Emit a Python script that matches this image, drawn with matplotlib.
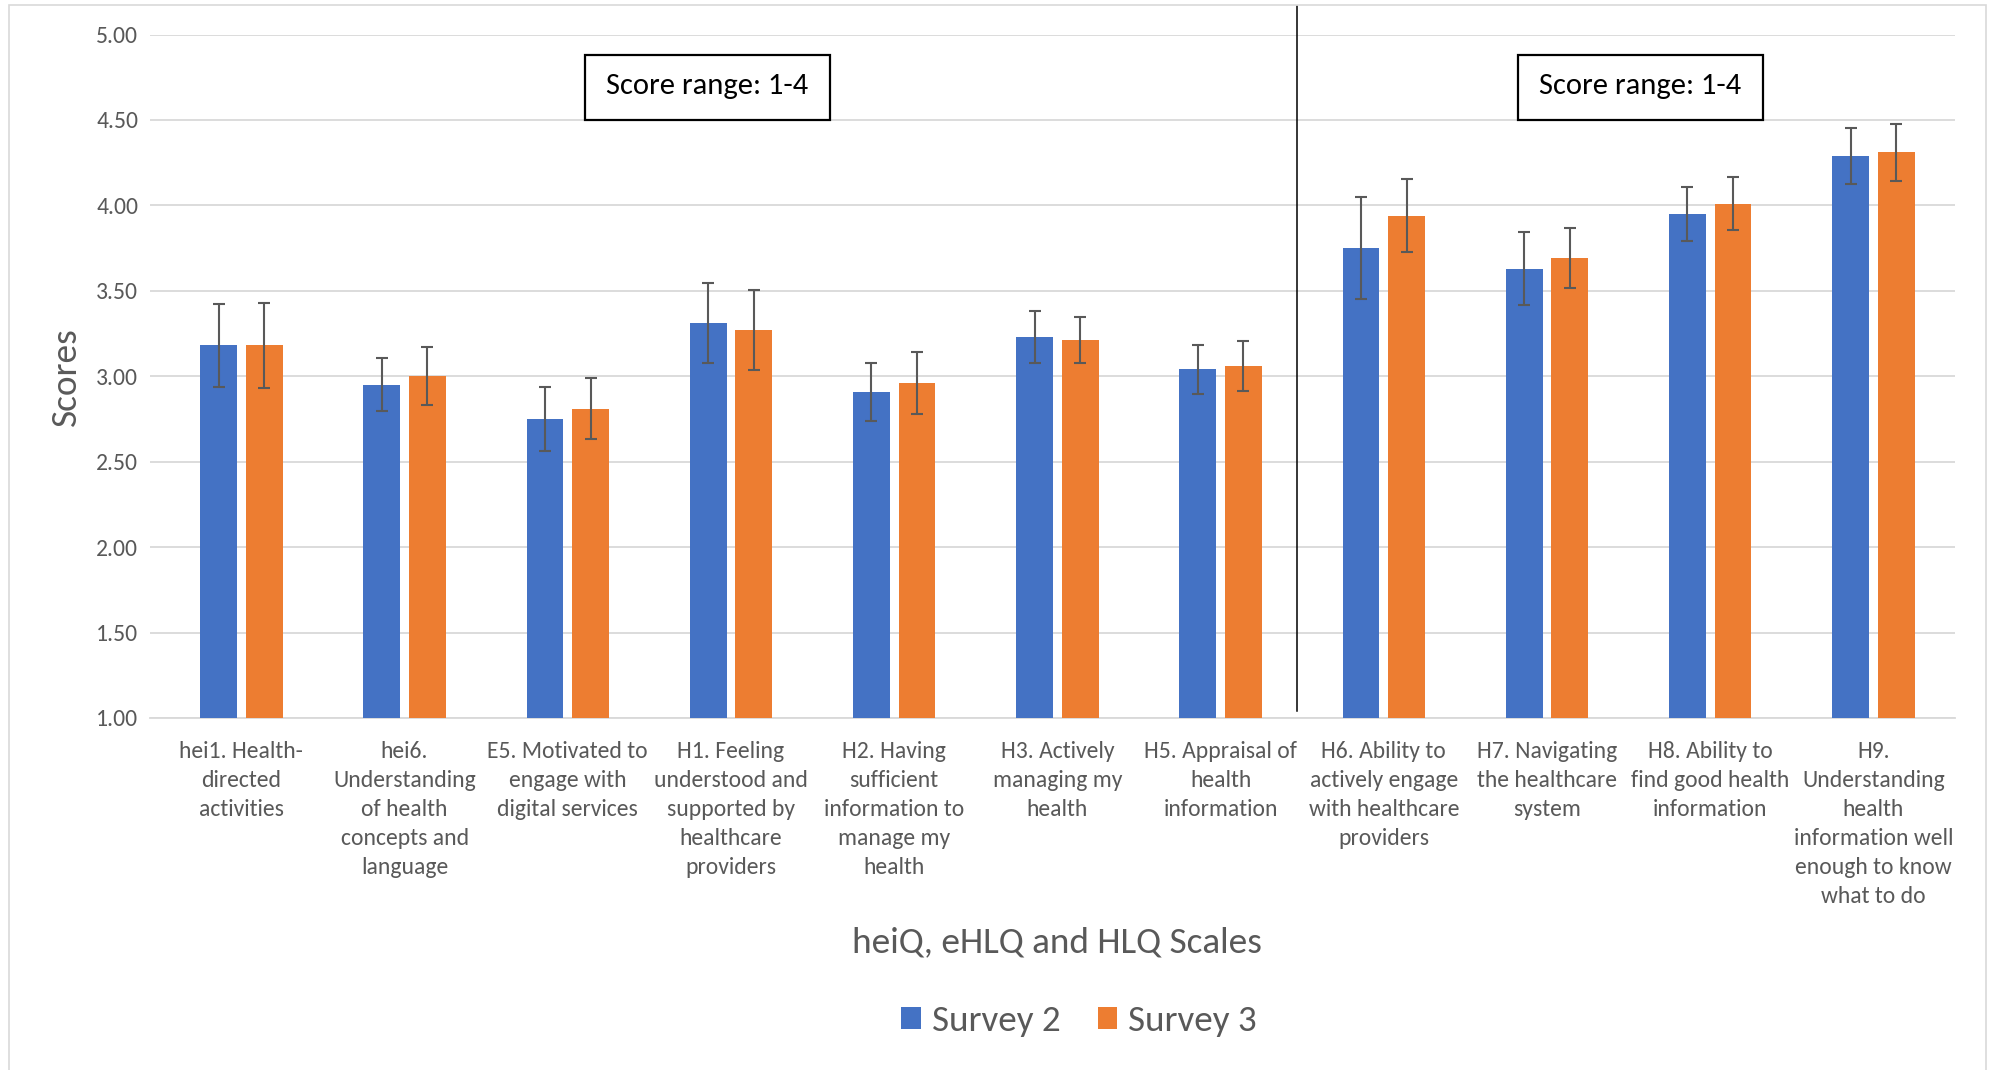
import matplotlib
matplotlib.use("Agg")
import matplotlib.pyplot as plt
from matplotlib.patches import Rectangle, Patch
import numpy as np

plt.rcParams['font.family'] = ['Carlito', 'Liberation Sans Narrow', 'Lato', 'DejaVu Sans']

categories = [
    "hei1. Health-\ndirected\nactivities",
    "hei6.\nUnderstanding\nof health\nconcepts and\nlanguage",
    "E5. Motivated to\nengage with\ndigital services",
    "H1. Feeling\nunderstood and\nsupported by\nhealthcare\nproviders",
    "H2. Having\nsufficient\ninformation to\nmanage my\nhealth",
    "H3. Actively\nmanaging my\nhealth",
    "H5. Appraisal of\nhealth\ninformation",
    "H6. Ability to\nactively engage\nwith healthcare\nproviders",
    "H7. Navigating\nthe healthcare\nsystem",
    "H8. Ability to\nfind good health\ninformation",
    "H9.\nUnderstanding\nhealth\ninformation well\nenough to know\nwhat to do",
]
survey2 = [3.18, 2.95, 2.75, 3.31, 2.91, 3.23, 3.04, 3.75, 3.63, 3.95, 4.29]
survey3 = [3.18, 3.00, 2.81, 3.27, 2.96, 3.21, 3.06, 3.94, 3.69, 4.01, 4.31]
err2 = [0.24, 0.155, 0.19, 0.235, 0.17, 0.15, 0.145, 0.30, 0.215, 0.16, 0.165]
err3 = [0.25, 0.17, 0.18, 0.235, 0.18, 0.135, 0.145, 0.215, 0.175, 0.155, 0.165]
series_names = ["Survey 2", "Survey 3"]
yticks = [1.00, 1.50, 2.00, 2.50, 3.00, 3.50, 4.00, 4.50, 5.00]
box_text = "Score range: 1-4"

BLUE = "#4472C4"
ORANGE = "#ED7D31"
GRAY = "#595959"
GRID = "#D9D9D9"

W, H = 1993, 1070
fig = plt.figure(figsize=(W / 100, H / 100), dpi=100)
fig.patch.set_facecolor("white")

# chart border (bottom edge lies outside the canvas, as in the reference)
fig.patches.append(Rectangle((9 / W, -10 / H), (1986 - 9) / W, (1065 + 10) / H,
                             transform=fig.transFigure, fill=False,
                             edgecolor=GRID, linewidth=1.2))

left, right = 150 / W, 1955 / W
bottom, top = 1 - 718 / H, 1 - 34.5 / H
ax = fig.add_axes([left, bottom, right - left, top - bottom])

x = np.arange(len(categories))
bw = 0.225
off = 0.14
err_kw = dict(ecolor=GRAY, elinewidth=1.5, capsize=4.6, capthick=1.5)
ax.bar(x - off, survey2, bw, color=BLUE, yerr=err2, error_kw=err_kw, zorder=3,
       label=series_names[0])
ax.bar(x + off, survey3, bw, color=ORANGE, yerr=err3, error_kw=err_kw, zorder=3,
       label=series_names[1])

ax.set_xlim(-0.56, len(categories) - 0.5)
ax.set_ylim(1, 5)
ax.set_yticks(yticks)
ax.set_yticklabels([f"{v:.2f}" for v in yticks])
ax.set_xticks(x)
ax.set_xticklabels(categories, linespacing=1.475)
ax.tick_params(axis='both', length=0, colors=GRAY, labelsize=17)
ax.tick_params(axis='x', pad=16.5)
ax.tick_params(axis='y', pad=8.5)
ax.grid(axis='y', color=GRID, linewidth=1.3, zorder=0)
ax.set_axisbelow(True)
for s in ['top', 'right', 'left']:
    ax.spines[s].set_visible(False)
ax.spines['bottom'].set_color(GRID)
ax.spines['bottom'].set_linewidth(1.3)

ax.set_ylabel("Scores", fontsize=26.8, color=GRAY, va='center')
ax.yaxis.set_label_coords(-0.0465, 0.5)
ax.set_xlabel("heiQ, eHLQ and HLQ Scales", fontsize=26.8, color=GRAY, va='center')
ax.xaxis.set_label_coords(0.5025, -0.328)

# divider line between scale groups
ax.plot([6.47, 6.47], [1.04, 5.167], color="black", linewidth=1.1, clip_on=False, zorder=4)

# score range boxes (axes-fraction placement)
for x0, x1 in [(0.2408, 0.3768), (0.7577, 0.8937)]:
    y0, y1 = 0.8755, 0.970
    ax.add_patch(Rectangle((x0, y0), x1 - x0, y1 - y0, transform=ax.transAxes,
                           facecolor="white", edgecolor="black", linewidth=1.6, zorder=5))
    ax.text((x0 + x1) / 2, (y0 + y1) / 2 + 0.002, box_text, transform=ax.transAxes,
            ha='center', va='center', fontsize=22, color="black", zorder=6)

handles = [Patch(facecolor=BLUE), Patch(facecolor=ORANGE)]
fig.legend(handles, series_names, loc='center', bbox_to_anchor=(1079 / W, 1 - 1021 / H),
           ncol=2, frameon=False, fontsize=26.7, handlelength=0.52, handleheight=0.52,
           handletextpad=0.3, columnspacing=1.0, labelcolor=GRAY)

fig.savefig("out.png", dpi=100)
